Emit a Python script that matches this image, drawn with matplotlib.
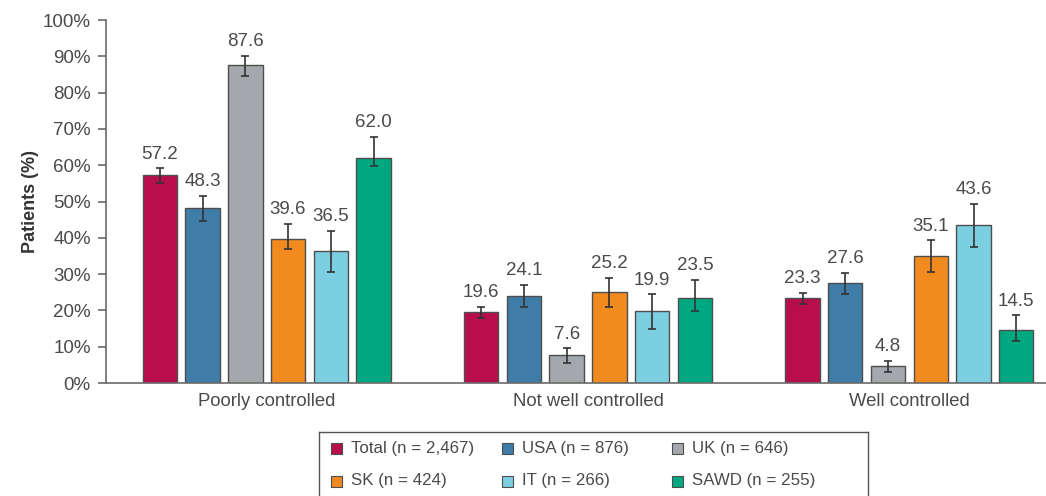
import matplotlib
matplotlib.use("Agg")
import matplotlib.pyplot as plt
from matplotlib.patches import Rectangle
import numpy as np

plt.rcParams["font.family"] = ["Liberation Sans", "DejaVu Sans"]

# asthma control level by country
categories = ["Poorly controlled", "Not well controlled", "Well controlled"]
series = ["Total (n = 2,467)", "USA (n = 876)", "UK (n = 646)",
          "SK (n = 424)", "IT (n = 266)", "SAWD (n = 255)"]
colors = ["#B80F4C", "#3F7DA8", "#A4A8AC", "#F28B1F", "#7BCFE1", "#00A882"]

# percent of patients, one row per country
values = [
    [57.2, 19.6, 23.3],
    [48.3, 24.1, 27.6],
    [87.6, 7.6, 4.8],
    [39.6, 25.2, 35.1],
    [36.5, 19.9, 43.6],
    [62.0, 23.5, 14.5],
]
# 95% CI bounds
ci_low = [
    [55.1, 18.0, 21.7],
    [44.6, 21.0, 24.5],
    [84.7, 5.4, 3.0],
    [36.9, 20.8, 30.6],
    [30.6, 14.8, 37.5],
    [59.8, 19.9, 11.6],
]
ci_high = [
    [59.2, 21.0, 24.9],
    [51.5, 27.0, 30.3],
    [90.1, 9.6, 6.1],
    [43.8, 29.0, 39.3],
    [42.0, 24.4, 49.3],
    [67.9, 28.5, 18.6],
]

W, H = 1046, 496
fig = plt.figure(figsize=(W / 100, H / 100), dpi=100)
ax = fig.add_axes([106 / W, 1 - 383 / H, (W - 106) / W, (383 - 20) / H])

txt = "#4a4a4a"
axcol = "#6a6a6a"
x = np.arange(len(categories))
pitch = 0.133
width = 0.107

for i, name in enumerate(series):
    xs = x + (i - 2.5) * pitch
    v = np.array(values[i])
    lo = v - np.array(ci_low[i])
    hi = np.array(ci_high[i]) - v
    ax.bar(xs, v, width, color=colors[i], edgecolor="#4d4d4d", linewidth=1.0, zorder=2)
    ax.errorbar(xs, v, yerr=[lo, hi], fmt="none", ecolor="#333333",
                elinewidth=1.2, capsize=3, capthick=1.2, zorder=3)
    for xi, vi, top in zip(xs, v, ci_high[i]):
        ax.annotate(f"{vi:.1f}", (xi, top), xytext=(0, 4), textcoords="offset points",
                    ha="center", va="bottom", fontsize=13.5, color=txt)

ax.set_xlim(-0.50, 2.425)
ax.set_ylim(0, 100)
ax.set_yticks(np.arange(0, 101, 10))
ax.set_yticklabels([f"{t}%" for t in range(0, 101, 10)])
ax.set_xticks(x)
ax.set_xticklabels(categories)
ax.tick_params(axis="x", length=0, pad=7, labelsize=13.3, labelcolor=txt)
ax.tick_params(axis="y", length=6, width=1.2, color=axcol, pad=5,
               labelsize=13.5, labelcolor=txt)
for s in ["top", "right"]:
    ax.spines[s].set_visible(False)
for s in ["left", "bottom"]:
    ax.spines[s].set_color(axcol)
    ax.spines[s].set_linewidth(1.2)
ax.set_ylabel("Patients (%)", fontsize=13, fontweight="bold", color="#333333", labelpad=3)

# boxed legend below the plot, laid out in pixel units
lax = fig.add_axes([319 / W, 1 - 515 / H, (868 - 319) / W, (515 - 432) / H])
lax.set_xlim(319, 868)
lax.set_ylim(515, 432)
lax.set_xticks([])
lax.set_yticks([])
for s in lax.spines.values():
    s.set_color("#555555")
    s.set_linewidth(1.0)
col_x = [331, 502, 672]
row_y = [448, 481]
for i, name in enumerate(series):
    cx = col_x[i % 3]
    cy = row_y[i // 3]
    lax.add_patch(Rectangle((cx, cy - 5.5), 11, 11, facecolor=colors[i],
                            edgecolor="#4d4d4d", linewidth=0.8))
    lax.text(cx + 20, cy, name, va="center", ha="left", fontsize=12.2, color=txt)

fig.savefig("out.png", dpi=100)
